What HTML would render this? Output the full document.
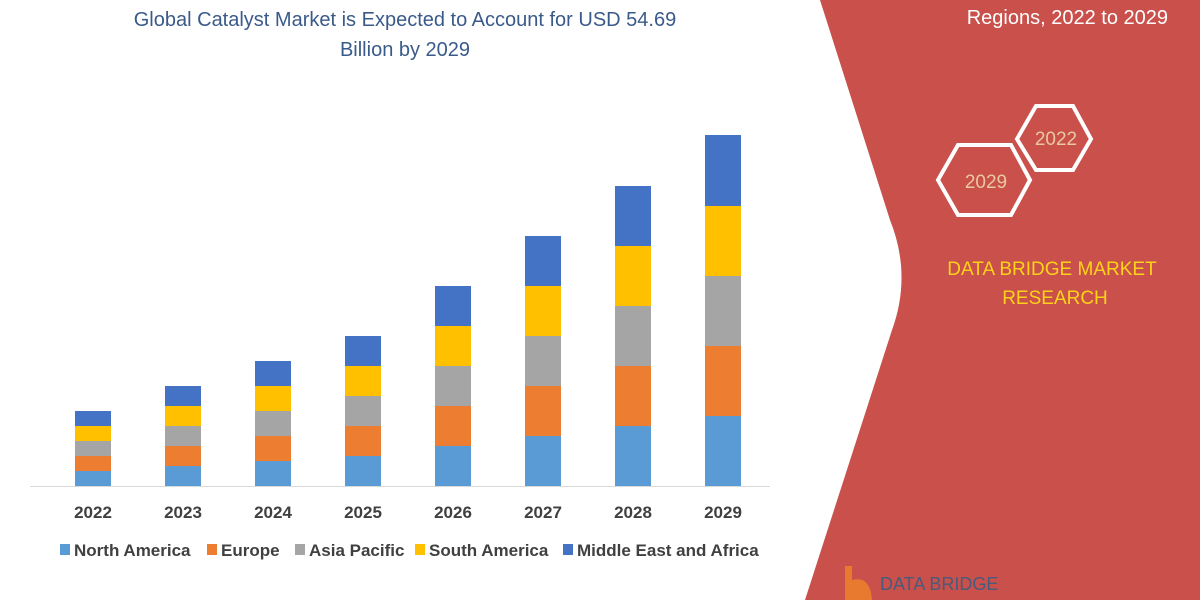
<!DOCTYPE html>
<html><head><meta charset="utf-8"><style>
html,body{margin:0;padding:0;background:#fff;}
body{width:1200px;height:600px;overflow:hidden;position:relative;font-family:"Liberation Sans",sans-serif;}
</style></head><body>
<svg width="1200" height="600" viewBox="0 0 1200 600" xmlns="http://www.w3.org/2000/svg" style="position:absolute;left:0;top:0">
<rect width="1200" height="600" fill="#fff"/>
<text x="405" y="26" font-size="20" fill="#3a5a8a" text-anchor="middle" font-family="Liberation Sans,sans-serif">Global Catalyst Market is Expected to Account for USD 54.69</text>
<text x="405" y="56" font-size="20" fill="#3a5a8a" text-anchor="middle" font-family="Liberation Sans,sans-serif">Billion by 2029</text>
<path d="M820,0 L890,220 Q912,275 892,330 L805,600 L1200,600 L1200,0 Z" fill="#c9504b"/>
<text x="1168" y="24" font-size="20" fill="#fff" text-anchor="end">Regions, 2022 to 2029</text>
<polygon d="" points="1017,139 1036,106 1073,106 1091,139 1073,170 1036,170" fill="none" stroke="#fff" stroke-width="4"/>
<polygon points="938,180 958,145 1011,145 1030,180 1011,215 958,215" fill="none" stroke="#fff" stroke-width="4"/>
<text x="1056" y="145" font-size="19" fill="#e8c9a0" text-anchor="middle">2022</text>
<text x="986" y="188" font-size="19" fill="#e8c9a0" text-anchor="middle">2029</text>
<text x="1052" y="275" font-size="19" fill="#ffd21a" text-anchor="middle">DATA BRIDGE MARKET</text>
<text x="1055" y="304" font-size="19" fill="#ffd21a" text-anchor="middle">RESEARCH</text>
<text x="880" y="590" font-size="18" fill="#4a5a7a">DATA BRIDGE</text>
<path d="M845,600 L845,566 L852,566 L852,580 Q870,575 872,600Z" fill="#e87a30"/>
<line x1="30" y1="486.5" x2="770" y2="486.5" stroke="#d9d9d9" stroke-width="1"/>
<g id="bars"></g>
<g font-size="17" font-weight="bold" fill="#404040" text-anchor="middle">
<text x="93" y="518">2022</text><text x="183" y="518">2023</text><text x="273" y="518">2024</text><text x="363" y="518">2025</text>
<text x="453" y="518">2026</text><text x="543" y="518">2027</text><text x="633" y="518">2028</text><text x="723" y="518">2029</text>
</g>
<g font-size="17" font-weight="bold" fill="#404040">
<rect x="60" y="544" width="10" height="11" fill="#5b9bd5"/><text x="74" y="556">North America</text>
<rect x="207" y="544" width="10" height="11" fill="#ed7d31"/><text x="221" y="556">Europe</text>
<rect x="295" y="544" width="10" height="11" fill="#a5a5a5"/><text x="309" y="556">Asia Pacific</text>
<rect x="415" y="544" width="10" height="11" fill="#ffc000"/><text x="429" y="556">South America</text>
<rect x="563" y="544" width="10" height="11" fill="#4472c4"/><text x="577" y="556">Middle East and Africa</text>
</g>
<g>
<!-- bars: x, seg height -->
<rect x="75" y="471" width="36" height="15" fill="#5b9bd5"/><rect x="75" y="456" width="36" height="15" fill="#ed7d31"/><rect x="75" y="441" width="36" height="15" fill="#a5a5a5"/><rect x="75" y="426" width="36" height="15" fill="#ffc000"/><rect x="75" y="411" width="36" height="15" fill="#4472c4"/>
<rect x="165" y="466" width="36" height="20" fill="#5b9bd5"/><rect x="165" y="446" width="36" height="20" fill="#ed7d31"/><rect x="165" y="426" width="36" height="20" fill="#a5a5a5"/><rect x="165" y="406" width="36" height="20" fill="#ffc000"/><rect x="165" y="386" width="36" height="20" fill="#4472c4"/>
<rect x="255" y="461" width="36" height="25" fill="#5b9bd5"/><rect x="255" y="436" width="36" height="25" fill="#ed7d31"/><rect x="255" y="411" width="36" height="25" fill="#a5a5a5"/><rect x="255" y="386" width="36" height="25" fill="#ffc000"/><rect x="255" y="361" width="36" height="25" fill="#4472c4"/>
<rect x="345" y="456" width="36" height="30" fill="#5b9bd5"/><rect x="345" y="426" width="36" height="30" fill="#ed7d31"/><rect x="345" y="396" width="36" height="30" fill="#a5a5a5"/><rect x="345" y="366" width="36" height="30" fill="#ffc000"/><rect x="345" y="336" width="36" height="30" fill="#4472c4"/>
<rect x="435" y="446" width="36" height="40" fill="#5b9bd5"/><rect x="435" y="406" width="36" height="40" fill="#ed7d31"/><rect x="435" y="366" width="36" height="40" fill="#a5a5a5"/><rect x="435" y="326" width="36" height="40" fill="#ffc000"/><rect x="435" y="286" width="36" height="40" fill="#4472c4"/>
<rect x="525" y="436" width="36" height="50" fill="#5b9bd5"/><rect x="525" y="386" width="36" height="50" fill="#ed7d31"/><rect x="525" y="336" width="36" height="50" fill="#a5a5a5"/><rect x="525" y="286" width="36" height="50" fill="#ffc000"/><rect x="525" y="236" width="36" height="50" fill="#4472c4"/>
<rect x="615" y="426" width="36" height="60" fill="#5b9bd5"/><rect x="615" y="366" width="36" height="60" fill="#ed7d31"/><rect x="615" y="306" width="36" height="60" fill="#a5a5a5"/><rect x="615" y="246" width="36" height="60" fill="#ffc000"/><rect x="615" y="186" width="36" height="60" fill="#4472c4"/>
<rect x="705" y="416" width="36" height="70" fill="#5b9bd5"/><rect x="705" y="346" width="36" height="70" fill="#ed7d31"/><rect x="705" y="276" width="36" height="70" fill="#a5a5a5"/><rect x="705" y="206" width="36" height="70" fill="#ffc000"/><rect x="705" y="135" width="36" height="71" fill="#4472c4"/>
</g>
</svg>
</body></html>
